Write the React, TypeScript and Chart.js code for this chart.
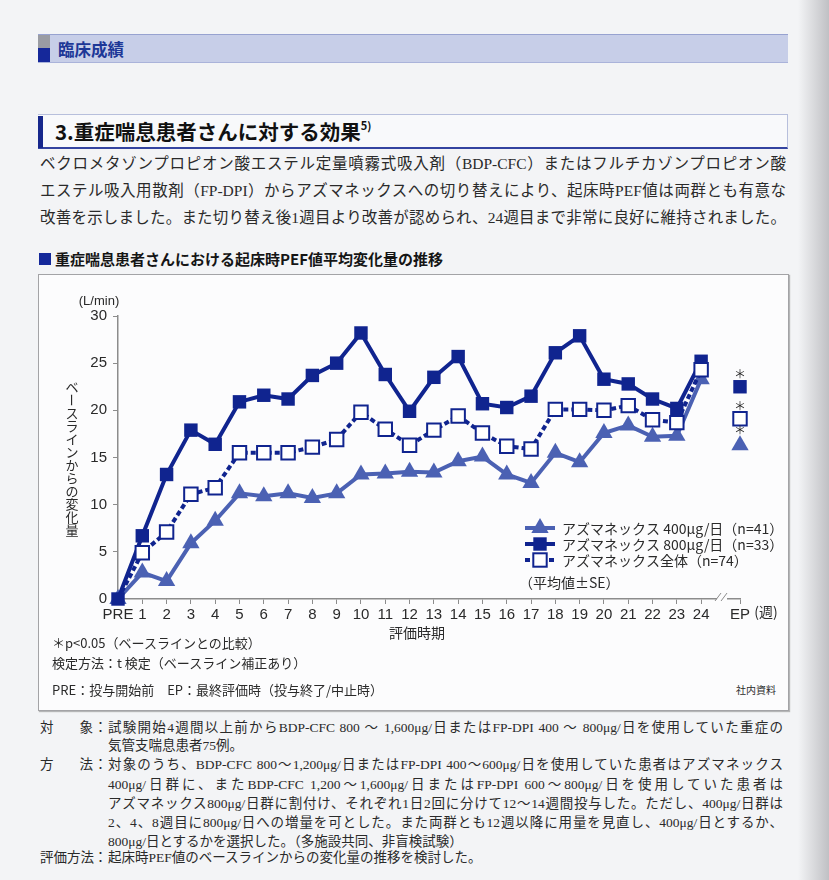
import React, { useEffect, useRef } from "react";
import { Chart, registerables } from "chart.js";

Chart.register(...registerables);

// ---------- data ----------
const weekValues = [0, 1, 2, 3, 4, 5, 6, 7, 8, 9, 10, 11, 12, 13, 14, 15, 16, 17, 18, 19, 20, 21, 22, 23, 24];
const tickLabels = ["PRE", "1", "2", "3", "4", "5", "6", "7", "8", "9", "10", "11", "12", "13", "14", "15", "16", "17", "18", "19", "20", "21", "22", "23", "24", "EP"];
const epPosition = 25.6;
const axisBreakPosition = 24.86;

const seriesLabels = [
  "アズマネックス 400μg/日（n=41）",
  "アズマネックス 800μg/日（n=33）",
  "アズマネックス全体（n=74）",
];

const azm400 = [0, 2.8, 1.9, 5.9, 8.3, 11.2, 10.9, 11.2, 10.7, 11.2, 13.2, 13.3, 13.5, 13.4, 14.6, 15.1, 13.2, 12.3, 15.5, 14.5, 17.6, 18.4, 17.2, 17.3, 23.3];
const azm800 = [0, 6.7, 13.2, 17.9, 16.4, 20.9, 21.6, 21.2, 23.7, 25.0, 28.2, 23.8, 19.9, 23.5, 25.7, 20.7, 20.3, 21.5, 26.1, 27.9, 23.3, 22.8, 21.2, 20.2, 25.2];
const azmAll = [0, 4.9, 7.1, 11.1, 11.8, 15.5, 15.5, 15.5, 16.1, 16.9, 19.8, 18.0, 16.3, 17.9, 19.4, 17.6, 16.2, 15.9, 20.1, 20.1, 20.0, 20.5, 19.0, 18.7, 24.3];
const ep400 = 16.3;
const ep800 = 22.5;
const epAll = 19.1;

// ---------- styles ----------
const NAVY = "#10248f";
const MID = "#4b61b3";
const AXIS = "#8c8c8c";
const TEXT = "#2a2a2a";
const BOX_BG = "#fcfcfd";
const PAGE_BG = "#f3f4f6";
const SANS = '"Liberation Sans", "Noto Sans CJK JP", sans-serif';
const JP = '"Noto Sans CJK JP", "Liberation Sans", sans-serif';
const SERIF = '"Liberation Serif", "Noto Sans CJK JP", serif';

const CANVAS_LEFT = 38;
const CANVAS_TOP = 274;
const CANVAS_W = 750;
const CANVAS_H = 366;

function drawMarker(ctx: CanvasRenderingContext2D, kind: string, x: number, y: number) {
  ctx.save();
  ctx.setLineDash([]);
  if (kind === "triangle") {
    const r = 10;
    ctx.fillStyle = MID;
    ctx.beginPath();
    ctx.moveTo(x, y - r);
    ctx.lineTo(x + r * Math.sin((2 * Math.PI) / 3), y - r * Math.cos((2 * Math.PI) / 3));
    ctx.lineTo(x + r * Math.sin((4 * Math.PI) / 3), y - r * Math.cos((4 * Math.PI) / 3));
    ctx.closePath();
    ctx.fill();
  } else if (kind === "square") {
    ctx.fillStyle = NAVY;
    ctx.fillRect(x - 6.7, y - 6.7, 13.4, 13.4);
  } else {
    ctx.fillStyle = "#ffffff";
    ctx.strokeStyle = NAVY;
    ctx.lineWidth = 2;
    ctx.fillRect(x - 6.7, y - 6.7, 13.4, 13.4);
    ctx.strokeRect(x - 6.7, y - 6.7, 13.4, 13.4);
  }
  ctx.restore();
}

const decorPlugin = {
  id: "decor",
  afterDraw(chart: any) {
    const { ctx } = chart;
    const xs = chart.scales.x;
    const ys = chart.scales.y;
    const c = (px: number, py: number) => [px - CANVAS_LEFT, py - CANVAS_TOP];
    ctx.save();

    // axis break
    const bx = xs.getPixelForValue(axisBreakPosition);
    const by = ys.getPixelForValue(0);
    ctx.fillStyle = BOX_BG;
    ctx.fillRect(bx - 5, by - 2, 10, 4);
    ctx.strokeStyle = AXIS;
    ctx.lineWidth = 1;
    ctx.beginPath();
    ctx.moveTo(bx - 7, by + 2);
    ctx.lineTo(bx - 1, by - 6);
    ctx.moveTo(bx - 1, by + 2);
    ctx.lineTo(bx + 5, by - 6);
    ctx.stroke();

    ctx.fillStyle = TEXT;
    ctx.textAlign = "center";
    ctx.textBaseline = "middle";

    // (週)
    ctx.font = `14px ${JP}`;
    let p = c(766, 612);
    ctx.fillText("(週)", p[0], p[1]);

    // (L/min)
    ctx.font = `13px ${SANS}`;
    p = c(99, 301);
    ctx.fillText("(L/min)", p[0], p[1]);

    // x title
    ctx.font = `14px ${JP}`;
    p = c(417, 633);
    ctx.fillText("評価時期", p[0], p[1]);

    // y title, vertical
    ctx.font = `13px ${JP}`;
    const yTitle = "ベースラインからの変化量";
    for (let i = 0; i < yTitle.length; i++) {
      const ch = yTitle[i];
      const q = c(72, 387 + i * 13);
      if (ch === "ー") {
        ctx.save();
        ctx.translate(q[0], q[1]);
        ctx.rotate(Math.PI / 2);
        ctx.fillText(ch, 0, 0);
        ctx.restore();
      } else {
        ctx.fillText(ch, q[0], q[1]);
      }
    }

    // legend
    const kinds = ["triangle", "square", "open"];
    const rows = [528, 544, 560];
    ctx.font = `14px ${JP}`;
    ctx.textAlign = "left";
    for (let i = 0; i < 3; i++) {
      const a = c(525, rows[i]);
      const b = c(555, rows[i]);
      ctx.save();
      ctx.lineWidth = 4;
      ctx.strokeStyle = i === 0 ? MID : NAVY;
      if (i === 2) ctx.setLineDash([5, 3]);
      ctx.beginPath();
      ctx.moveTo(a[0], a[1]);
      ctx.lineTo(b[0], b[1]);
      ctx.stroke();
      ctx.restore();
      const m = c(540, rows[i]);
      drawMarker(ctx, kinds[i], m[0], m[1]);
      const t = c(562, rows[i] + 1);
      ctx.fillStyle = TEXT;
      ctx.fillText(seriesLabels[i], t[0], t[1]);
    }
    p = c(525, 583);
    ctx.fillText("（平均値±SE）", p[0] - 6, p[1]);

    // asterisks over EP markers
    ctx.textAlign = "center";
    ctx.font = `12px ${JP}`;
    const epSets = [
      { idx: 3, off: 15 },
      { idx: 4, off: 12 },
      { idx: 5, off: 12 },
    ];
    for (const e of epSets) {
      const el = chart.getDatasetMeta(e.idx).data[0];
      if (el) ctx.fillText("＊", el.x, el.y - e.off);
    }
    ctx.restore();
  },
};

function ChartCanvas() {
  const ref = useRef<HTMLCanvasElement | null>(null);
  useEffect(() => {
    if (!ref.current) return;
    const pts = (arr: number[]) => weekValues.map((w, i) => ({ x: w, y: arr[i] }));
    const chart = new Chart(ref.current, {
      type: "line",
      data: {
        datasets: [
          {
            label: seriesLabels[0],
            data: pts(azm400),
            borderColor: MID,
            backgroundColor: MID,
            borderWidth: 4,
            pointStyle: "triangle",
            pointRadius: 10,
            pointBorderWidth: 0,
            order: 3,
            clip: false,
          },
          {
            label: seriesLabels[1],
            data: pts(azm800),
            borderColor: NAVY,
            backgroundColor: NAVY,
            borderWidth: 4,
            pointStyle: "rect",
            pointRadius: 9.5,
            pointBorderWidth: 0,
            order: 2,
            clip: false,
          },
          {
            label: seriesLabels[2],
            data: pts(azmAll),
            borderColor: NAVY,
            backgroundColor: "#ffffff",
            pointBackgroundColor: "#ffffff",
            pointBorderColor: NAVY,
            borderWidth: 4,
            borderDash: [5, 3],
            pointStyle: "rect",
            pointRadius: (ctx: any) => (ctx.dataIndex === 0 ? 0 : 9.5),
            pointBorderWidth: 2,
            order: 1,
            clip: false,
          },
          {
            label: "EP400",
            data: [{ x: epPosition, y: ep400 }],
            showLine: false,
            backgroundColor: MID,
            borderColor: MID,
            pointStyle: "triangle",
            pointRadius: 10,
            pointBorderWidth: 0,
            order: 3,
            clip: false,
          },
          {
            label: "EP800",
            data: [{ x: epPosition, y: ep800 }],
            showLine: false,
            backgroundColor: NAVY,
            borderColor: NAVY,
            pointStyle: "rect",
            pointRadius: 9.5,
            pointBorderWidth: 0,
            order: 2,
            clip: false,
          },
          {
            label: "EPAll",
            data: [{ x: epPosition, y: epAll }],
            showLine: false,
            backgroundColor: "#ffffff",
            borderColor: NAVY,
            pointStyle: "rect",
            pointRadius: 9.5,
            pointBorderWidth: 2,
            order: 1,
            clip: false,
          },
        ],
      },
      options: {
        animation: false,
        responsive: false,
        devicePixelRatio: 1,
        layout: { autoPadding: false, padding: { left: 0, right: 48, top: 42, bottom: 0 } },
        plugins: { legend: { display: false }, tooltip: { enabled: false } },
        scales: {
          x: {
            type: "linear",
            min: 0,
            max: epPosition,
            afterBuildTicks: (axis: any) => {
              axis.ticks = [...weekValues, epPosition].map((v) => ({ value: v }));
            },
            afterFit: (axis: any) => {
              axis.height = CANVAS_H - 325;
            },
            ticks: {
              autoSkip: false,
              maxRotation: 0,
              padding: 2,
              color: TEXT,
              font: { family: SANS, size: 15 },
              callback: (_v: any, i: number) => tickLabels[i],
            },
            grid: { drawOnChartArea: false, drawTicks: true, tickLength: 5, color: AXIS, lineWidth: 1 },
            border: { display: true, color: AXIS, width: 1.5 },
          },
          y: {
            min: 0,
            max: 30,
            afterFit: (axis: any) => {
              axis.width = 80;
            },
            ticks: {
              stepSize: 5,
              padding: 6,
              color: TEXT,
              font: { family: SANS, size: 15 },
            },
            grid: { drawOnChartArea: false, drawTicks: true, tickLength: 5, color: AXIS, lineWidth: 1 },
            border: { display: true, color: AXIS, width: 1.5 },
          },
        },
      },
      plugins: [decorPlugin],
    } as any);
    return () => chart.destroy();
  }, []);
  return (
    <canvas
      ref={ref}
      width={CANVAS_W}
      height={CANVAS_H}
      style={{ position: "absolute", left: CANVAS_LEFT, top: CANVAS_TOP, width: CANVAS_W, height: CANVAS_H }}
    />
  );
}

const abs = (s: React.CSSProperties): React.CSSProperties => ({ position: "absolute", ...s });

function MethodLine({ top, label, text, justify, indent }: { top: number; label?: string; text: string; justify: boolean; indent?: boolean }) {
  return (
    <div style={abs({ left: 40, top, width: 745, height: 19, lineHeight: "19px", fontSize: 13.5, fontFamily: SERIF, color: TEXT, whiteSpace: "nowrap" })}>
      {label ? (
        <span style={{ display: "inline-block", width: 53, textAlign: "justify", textAlignLast: "justify", verticalAlign: "top" }}>{label}</span>
      ) : (
        <span style={{ display: "inline-block", width: 53 }} />
      )}
      <span style={{ display: "inline-block", width: 15, textAlign: "center", verticalAlign: "top" }}>{label ? "：" : ""}</span>
      <span style={{ display: "inline-block", width: 675, textAlign: justify ? "justify" : "left", textAlignLast: justify ? "justify" : "left", verticalAlign: "top", whiteSpace: "normal" }}>{text}</span>
    </div>
  );
}

export default function App() {
  const paraLines = [
    "ベクロメタゾンプロピオン酸エステル定量噴霧式吸入剤（BDP-CFC）またはフルチカゾンプロピオン酸",
    "エステル吸入用散剤（FP-DPI）からアズマネックスへの切り替えにより、起床時PEF値は両群とも有意な",
    "改善を示しました。また切り替え後1週目より改善が認められ、24週目まで非常に良好に維持されました。",
  ];
  return (
    <div style={abs({ left: 0, top: 0, width: 829, height: 880, background: PAGE_BG, overflow: "hidden", fontFamily: JP })}>
      {/* scanner shadow on right */}
      <div style={abs({ left: 798, top: 0, width: 31, height: 880, background: "linear-gradient(to right, rgba(200,200,205,0), rgba(150,150,155,0.55))" })} />

      {/* header 1 */}
      <div style={abs({ left: 38, top: 34, width: 750, height: 27, background: "#c7cee8", borderTop: "1px solid #97a2d0", borderBottom: "1px solid #aab3da" })} />
      <div style={abs({ left: 38, top: 35, width: 12, height: 13, background: "#9a9ca3" })} />
      <div style={abs({ left: 38, top: 48, width: 12, height: 14, background: "#15289a" })} />
      <div style={abs({ left: 58, top: 38, height: 22, lineHeight: "22px", fontSize: 16.5, fontWeight: 700, color: "#1d3797" })}>臨床成績</div>

      {/* header 2 */}
      <div style={abs({ left: 38, top: 114, width: 749, height: 32, background: "#f8f9fb", borderTop: "1px solid #b7bfdc", borderRight: "1px solid #b7bfdc", borderBottom: "2px solid #3444a0" })} />
      <div style={abs({ left: 38, top: 116, width: 5, height: 32, background: "#16278c" })} />
      <div style={abs({ left: 55, top: 117, height: 28, lineHeight: "28px", fontSize: 20.5, fontWeight: 700, color: "#111" })}>
        3.重症喘息患者さんに対する効果<sup style={{ fontSize: 11, verticalAlign: "top", lineHeight: "16px" }}>5)</sup>
      </div>

      {/* paragraph */}
      <div style={abs({ left: 40, top: 150, width: 746, fontFamily: SERIF, fontSize: 15.5, lineHeight: "27px", color: TEXT })}>
        {paraLines.map((l, i) => (
          <div key={i} style={{ textAlign: "justify", textAlignLast: "justify", height: 27 }}>{l}</div>
        ))}
      </div>

      {/* subtitle */}
      <div style={abs({ left: 39, top: 253, width: 12, height: 12, background: "#14289a" })} />
      <div style={abs({ left: 55, top: 248, height: 22, lineHeight: "22px", fontSize: 15, fontWeight: 700, color: "#151515" })}>
        重症喘息患者さんにおける起床時PEF値平均変化量の推移
      </div>

      {/* chart box */}
      <div style={abs({ left: 38, top: 274, width: 749, height: 435, background: BOX_BG, border: "1px solid #a3a3a6", boxShadow: "1px 1px 1px rgba(120,120,120,0.5)" })} />
      <ChartCanvas />

      {/* footnotes */}
      <div style={abs({ left: 52, top: 634, lineHeight: "18px", fontSize: 13, color: TEXT })}>＊p&lt;0.05（ベースラインとの比較）</div>
      <div style={abs({ left: 52, top: 654, lineHeight: "18px", fontSize: 13, color: TEXT })}>検定方法：t 検定（ベースライン補正あり）</div>
      <div style={abs({ left: 52, top: 681, lineHeight: "18px", fontSize: 13, color: TEXT })}>PRE：投与開始前　EP：最終評価時（投与終了/中止時）</div>
      <div style={abs({ left: 736, top: 683, lineHeight: "14px", fontSize: 10, color: TEXT })}>社内資料</div>

      {/* methods */}
      <MethodLine top={718} label="対象" justify text="試験開始4週間以上前からBDP-CFC 800 ～ 1,600μg/日またはFP-DPI 400 ～ 800μg/日を使用していた重症の" />
      <MethodLine top={736} justify={false} text="気管支喘息患者75例。" />
      <MethodLine top={755} label="方法" justify text="対象のうち、BDP-CFC 800～1,200μg/日またはFP-DPI 400～600μg/日を使用していた患者はアズマネックス" />
      <MethodLine top={775} justify text="400μg/日群に、またBDP-CFC 1,200～1,600μg/日またはFP-DPI 600～800μg/日を使用していた患者は" />
      <MethodLine top={794} justify text="アズマネックス800μg/日群に割付け、それぞれ1日2回に分けて12～14週間投与した。ただし、400μg/日群は" />
      <MethodLine top={813} justify text="2、4、8週目に800μg/日への増量を可とした。また両群とも12週以降に用量を見直し、400μg/日とするか、" />
      <MethodLine top={832} justify={false} text="800μg/日とするかを選択した。（多施設共同、非盲検試験）" />
      <MethodLine top={848} label="評価方法" justify={false} text="起床時PEF値のベースラインからの変化量の推移を検討した。" />
    </div>
  );
}
